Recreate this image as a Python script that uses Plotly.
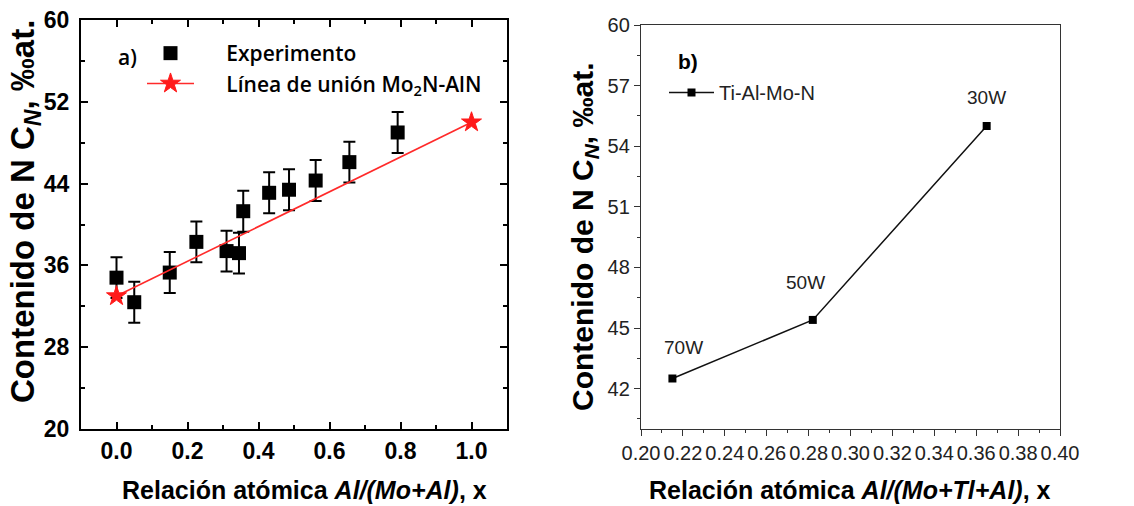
import plotly.graph_objects as go

# ---- data: panel a) nitrogen content vs Al/(Mo+Al)
x_exp = [0.0, 0.05, 0.15, 0.225, 0.31, 0.345, 0.357, 0.43, 0.486, 0.561, 0.656, 0.792]
y_exp = [34.8, 32.4, 35.3, 38.3, 37.4, 37.2, 41.3, 43.1, 43.4, 44.3, 46.1, 49.0]
err_exp = [2.0, 2.0, 2.0, 2.0, 2.0, 2.0, 2.0, 2.0, 2.0, 2.0, 2.0, 2.0]

x_tie = [0.0, 1.0]
y_tie = [33.0, 50.0]

# ---- data: panel b) Ti-Al-Mo-N films
x_b = [0.215, 0.282, 0.365]
y_b = [42.5, 45.4, 55.0]
labels_b = ["70W", "50W", "30W"]

W, H = 1134, 506
PAD = "\u00a0" * 5


def px(x):
    return x / W


def py(y):
    return (H - y) / H


fig = go.Figure()

# panel a)
fig.add_trace(go.Scatter(
    x=x_exp, y=y_exp, mode="markers", xaxis="x", yaxis="y",
    name=PAD + "Experimento",
    marker=dict(symbol="square", size=14, color="black"),
    error_y=dict(type="data", array=err_exp, visible=True,
                 color="black", thickness=2, width=6),
    legend="legend", legendgroup="exp",
))
fig.add_trace(go.Scatter(
    x=x_tie, y=y_tie, mode="lines+markers", xaxis="x", yaxis="y",
    name=PAD + "Línea de unión Mo<sub>2</sub>N-AlN",
    line=dict(color="#ff2a2a", width=1.6),
    marker=dict(symbol="star", size=15, color="#ff1a1a",
                line=dict(color="#ff1a1a", width=1)),
    legend="legend", legendgroup="tie",
))

# panel b)
fig.add_trace(go.Scatter(
    x=x_b, y=y_b, mode="lines+markers", xaxis="x2", yaxis="y2",
    name="Ti-Al-Mo-N",
    line=dict(color="#111111", width=1.5),
    marker=dict(symbol="square", size=8, color="black"),
    legend="legend2",
))

axis_a = dict(showline=True, linewidth=2, linecolor="black", mirror="ticks",
              ticks="inside", ticklen=7, tickwidth=2, tickcolor="black",
              showgrid=False, zeroline=False, automargin=False,
              tickfont=dict(family="Arial, Liberation Sans", size=23,
                            color="black", weight="bold"))

axis_b = dict(showline=True, linewidth=1.3, linecolor="#333333", mirror=True,
              ticks="outside", ticklen=6, tickwidth=1.3, tickcolor="#333333",
              showgrid=False, zeroline=False, automargin=False,
              tickfont=dict(family="Arial, Liberation Sans", size=20,
                            color="#222222"))

fig.update_layout(
    width=W, height=H,
    margin=dict(l=0, r=0, t=0, b=0, autoexpand=False),
    paper_bgcolor="white", plot_bgcolor="white",
    xaxis=dict(axis_a, domain=[px(81), px(507)], range=[-0.1, 1.1],
               tick0=0, dtick=0.2, tickformat=".1f", anchor="y",
               minor=dict(ticks="inside", ticklen=4, tickwidth=2,
                          tickcolor="black", dtick=0.1, tick0=0)),
    yaxis=dict(axis_a, domain=[py(429), py(20)], range=[20, 60],
               tick0=20, dtick=8, anchor="x", ticklabelstandoff=5,
               minor=dict(ticks="inside", ticklen=4, tickwidth=2,
                          tickcolor="black", dtick=4, tick0=20)),
    xaxis2=dict(axis_b, domain=[px(641), px(1060)], range=[0.20, 0.40],
                anchor="y2", tick0=0.2, dtick=0.02, tickformat=".2f",
                minor=dict(ticks="outside", ticklen=3, tickwidth=1.3,
                           tickcolor="#333333", dtick=0.01)),
    yaxis2=dict(axis_b, domain=[py(429), py(25)], range=[40, 60], anchor="x2",
                tick0=42, dtick=3,
                minor=dict(ticks="outside", ticklen=3, tickwidth=1.3,
                           tickcolor="#333333", dtick=1.5, tick0=42)),
    legend=dict(x=px(142), y=py(33), xanchor="left", yanchor="top",
                bgcolor="rgba(0,0,0,0)", tracegroupgap=13,
                font=dict(family="Open Sans", size=21, color="black",
                          weight=600),
                itemwidth=47, traceorder="normal"),
    legend2=dict(x=px(664), y=py(73), xanchor="left", yanchor="top",
                 bgcolor="rgba(0,0,0,0)", itemwidth=45,
                 font=dict(family="Arial, Liberation Sans", size=20,
                           color="#222222")),
    showlegend=True,
)

ann = [
    dict(text="Contenido de N C<sub><i>N</i></sub>, ‰at.", x=px(25), y=py(212),
         textangle=-90,
         font=dict(family="Arial, Liberation Sans", size=33, color="black",
                   weight="bold")),
    dict(text="Relación atómica <i>Al/(Mo+Al)</i>, x", x=px(304), y=py(490),
         font=dict(family="Arial, Liberation Sans", size=25, color="black",
                   weight="bold")),
    dict(text="Contenido de N C<sub><i>N</i></sub>, ‰at.", x=px(585), y=py(237),
         textangle=-90,
         font=dict(family="Arial, Liberation Sans", size=30, color="black",
                   weight="bold")),
    dict(text="Relación atómica <i>Al/(Mo+Tl+Al)</i>, x", x=px(850), y=py(490),
         font=dict(family="Arial, Liberation Sans", size=25, color="black",
                   weight="bold")),
    dict(text="a)", x=px(127), y=py(57),
         font=dict(family="Open Sans", size=21, color="black", weight=600)),
    dict(text="b)", x=px(688), y=py(62),
         font=dict(family="Arial, Liberation Sans", size=21, color="black",
                   weight="bold")),
]
for a in ann:
    a.update(xref="paper", yref="paper", showarrow=False,
             xanchor="center", yanchor="middle")
    fig.add_annotation(**a)

# point labels for panel b)
shifts = [(11, 31), (-7, 37), (0, 29)]
for xv, yv, t, (dx, dy) in zip(x_b, y_b, labels_b, shifts):
    fig.add_annotation(x=xv, y=yv, xref="x2", yref="y2", text=t,
                       showarrow=False, xshift=dx, yshift=dy,
                       font=dict(family="Arial, Liberation Sans",
                                 size=19, color="#222222"))

fig.write_html("out.html")
